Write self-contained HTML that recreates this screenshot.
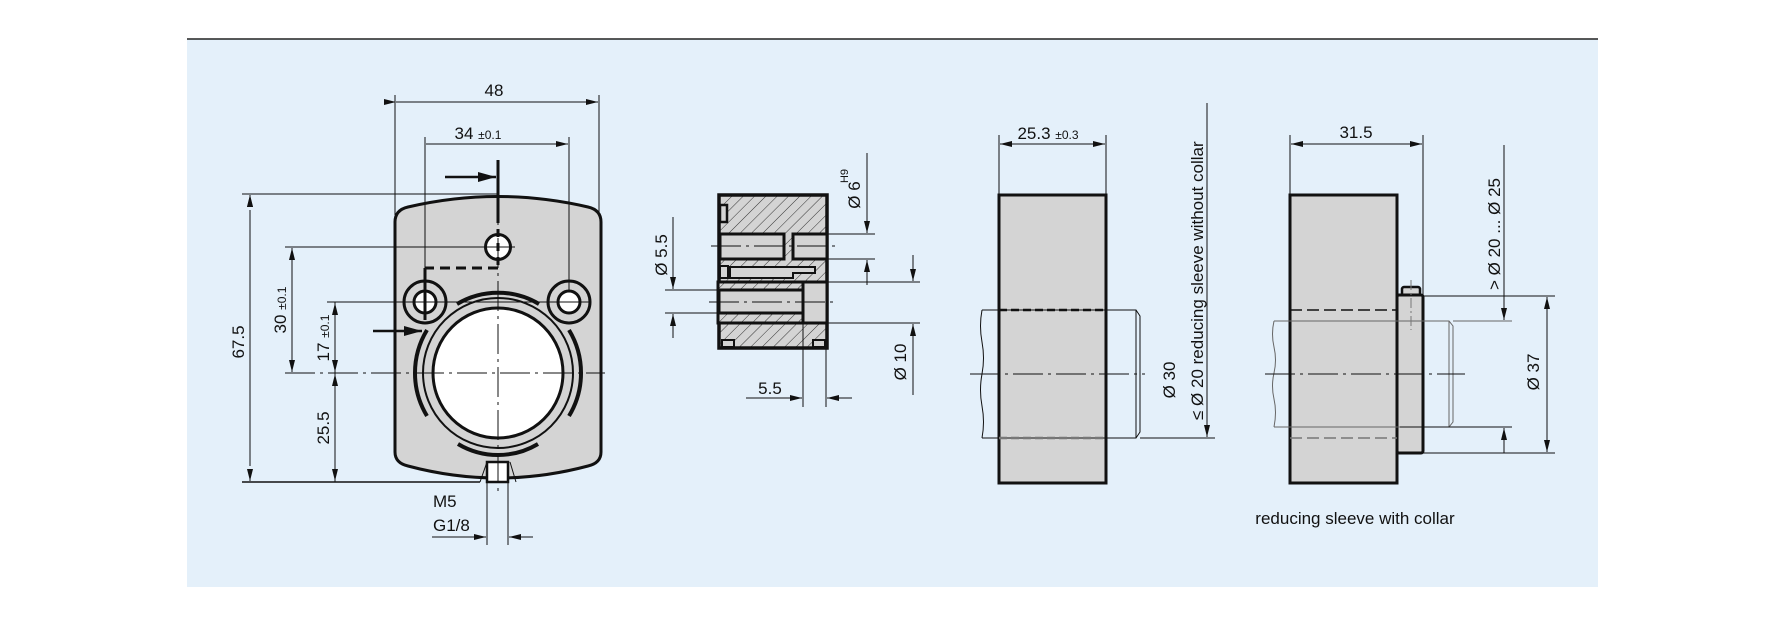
<!DOCTYPE html>
<html><head><meta charset="utf-8"><style>
html,body{margin:0;padding:0;background:#fff;}
svg{display:block;}
text{font-family:"Liberation Sans Narrow","Liberation Sans",sans-serif;fill:#111;}
</style></head><body>
<svg width="1786" height="625" viewBox="0 0 1786 625" xmlns="http://www.w3.org/2000/svg">
<defs>
<pattern id="h" width="8" height="8" patternUnits="userSpaceOnUse" patternTransform="rotate(45)">
<rect width="8" height="8" fill="#d4d4d4"/><line x1="0" y1="0" x2="0" y2="8" stroke="#333" stroke-width="1"/>
</pattern>
<marker id="a" viewBox="0 0 12 6" refX="12" refY="3" markerWidth="12" markerHeight="6" orient="auto" markerUnits="userSpaceOnUse"><path d="M0,0L12,3L0,6z" fill="#111"/></marker>
<marker id="ab" viewBox="0 0 18 10" refX="18" refY="5" markerWidth="18" markerHeight="10" orient="auto" markerUnits="userSpaceOnUse"><path d="M0,0L18,5L0,10z" fill="#111"/></marker>
</defs>
<rect x="187" y="39" width="1411" height="548" fill="#e4f0fa"/>
<line x1="187" y1="39" x2="1598" y2="39" stroke="#222" stroke-width="1.5"/>

<g stroke="#111" fill="none" stroke-width="1">
<!-- VIEW 1 -->
<path d="M395,222 Q395,210 408,207 Q498,186 588,207 Q601,210 601,222 L601,452 Q601,463 588,466 Q498,490 408,466 Q395,463 395,452 Z" fill="#d4d4d4" stroke-width="3"/>
<circle cx="498" cy="373" r="75" fill="#d4d4d4" stroke-width="2"/>
<circle cx="498" cy="373" r="65" fill="#fff" stroke-width="3"/>
<path d="M427,330 A83,83 0 0 0 427,416" stroke-width="4"/>
<path d="M569,330 A83,83 0 0 1 569,416" stroke-width="4"/>
<path d="M457,304 A80,80 0 0 1 539,304" stroke-width="4"/>
<path d="M458,444 A78,78 0 0 0 538,444" stroke-width="4"/>
<circle cx="498" cy="247" r="12.5" fill="#fff" stroke-width="3"/>
<circle cx="425" cy="302" r="21" stroke-width="3"/>
<circle cx="425" cy="302" r="11" fill="#fff" stroke-width="3"/>
<circle cx="569" cy="302" r="21" stroke-width="3"/>
<circle cx="569" cy="302" r="11" fill="#fff" stroke-width="3"/>
<path d="M480,482 L487,462 M510,462 L516,482" stroke-width="1"/>
<rect x="487" y="462" width="21" height="20" fill="#fff" stroke-width="2.5"/>
<!-- centerlines -->
<line x1="285" y1="373" x2="605" y2="373" stroke-dasharray="30,5,3,5"/>
<line x1="498" y1="195" x2="498" y2="495" stroke-dasharray="30,5,3,5"/>
<!-- section markers -->
<line x1="498" y1="160" x2="498" y2="215" stroke-width="3"/>
<line x1="498" y1="215" x2="498" y2="268" stroke-width="3" stroke-dasharray="8,6"/>
<path d="M498,268 L425,268" stroke-width="3" stroke-dasharray="10,6"/>
<line x1="425" y1="268" x2="425" y2="320" stroke-width="3"/>
<line x1="445" y1="177" x2="496" y2="177" stroke-width="2.5" marker-end="url(#ab)"/>
<line x1="373" y1="331" x2="422" y2="331" stroke-width="2.5" marker-end="url(#ab)"/>
<!-- dims -->
<line x1="395" y1="95" x2="395" y2="215"/><line x1="599" y1="95" x2="599" y2="215"/>
<line x1="396" y1="102" x2="598" y2="102" marker-start="url(#a)" marker-end="url(#a)" style="marker-start:url(#a)"/>
<line x1="425" y1="137" x2="425" y2="290"/><line x1="569" y1="137" x2="569" y2="290"/>
<line x1="426" y1="144" x2="568" y2="144" marker-end="url(#a)"/>
<line x1="242" y1="194" x2="498" y2="194"/><line x1="242" y1="482" x2="480" y2="482" stroke-width="1.5"/>
<line x1="250" y1="200" x2="250" y2="195" marker-end="url(#a)"/>
<line x1="250" y1="210" x2="250" y2="466" />
<line x1="250" y1="470" x2="250" y2="481" marker-end="url(#a)"/>
<line x1="250" y1="206" x2="250" y2="195" marker-end="url(#a)"/>
<line x1="285" y1="247" x2="515" y2="247"/>
<line x1="292" y1="260" x2="292" y2="248" marker-end="url(#a)"/>
<line x1="292" y1="258" x2="292" y2="360"/>
<line x1="292" y1="360" x2="292" y2="372" marker-end="url(#a)"/>
<line x1="327" y1="302" x2="590" y2="302"/>
<line x1="335" y1="302" x2="335" y2="482"/>
<line x1="335" y1="315" x2="335" y2="303" marker-end="url(#a)"/>
<line x1="335" y1="360" x2="335" y2="372" marker-end="url(#a)"/>
<line x1="335" y1="386" x2="335" y2="374" marker-end="url(#a)"/>
<line x1="335" y1="470" x2="335" y2="481" marker-end="url(#a)"/>
<line x1="487" y1="482" x2="487" y2="545"/><line x1="508" y1="482" x2="508" y2="545"/>
<line x1="432" y1="537" x2="486" y2="537" marker-end="url(#a)"/>
<line x1="533" y1="537" x2="509" y2="537" marker-end="url(#a)"/>

<!-- VIEW 2 section -->
<rect x="719" y="195" width="108" height="153" fill="url(#h)" stroke-width="3.5"/>
<rect x="720" y="205" width="7" height="17" fill="#d4d4d4" stroke-width="2.5"/>
<rect x="720" y="234" width="64" height="25" fill="#d4d4d4" stroke-width="3"/>
<rect x="793" y="234" width="34" height="25" fill="#d4d4d4" stroke-width="3"/>
<rect x="720" y="266" width="8" height="12" fill="#d4d4d4" stroke-width="2"/>
<path d="M730,267 L815,267 L815,273 L793,273 L793,278 L730,278 Z" fill="#d4d4d4" stroke-width="2"/>
<rect x="718" y="282" width="109" height="41" fill="url(#h)" stroke-width="3"/>
<rect x="803" y="282" width="24" height="41" fill="#d4d4d4" stroke-width="3"/>
<rect x="719" y="290" width="84" height="23" fill="#d4d4d4" stroke-width="3"/>
<rect x="722" y="340" width="12" height="7" fill="#d4d4d4" stroke-width="2"/>
<rect x="813" y="340" width="12" height="7" fill="#d4d4d4" stroke-width="2"/>
<line x1="711" y1="246" x2="835" y2="246" stroke-dasharray="30,5,3,5"/>
<line x1="709" y1="302" x2="835" y2="302" stroke-dasharray="30,5,3,5"/>
<line x1="827" y1="234" x2="875" y2="234"/><line x1="827" y1="259" x2="875" y2="259"/>
<line x1="867" y1="153" x2="867" y2="233" marker-end="url(#a)"/>
<line x1="867" y1="285" x2="867" y2="260" marker-end="url(#a)"/>
<line x1="827" y1="282" x2="920" y2="282"/><line x1="827" y1="323" x2="920" y2="323"/>
<line x1="913" y1="255" x2="913" y2="281" marker-end="url(#a)"/>
<line x1="913" y1="395" x2="913" y2="324" marker-end="url(#a)"/>
<line x1="665" y1="290" x2="720" y2="290"/><line x1="665" y1="313" x2="720" y2="313"/>
<line x1="673" y1="217" x2="673" y2="289" marker-end="url(#a)"/>
<line x1="673" y1="338" x2="673" y2="314" marker-end="url(#a)"/>
<line x1="803" y1="323" x2="803" y2="407"/><line x1="826" y1="348" x2="826" y2="407"/>
<line x1="746" y1="398" x2="802" y2="398" marker-end="url(#a)"/>
<line x1="852" y1="398" x2="827" y2="398" marker-end="url(#a)"/>

<!-- VIEW 3 -->
<rect x="999" y="195" width="107" height="288" fill="#d4d4d4" stroke-width="3"/>
<path d="M982,310 L1136,310 L1140,316 L1140,432 L1136,438 L982,438" stroke-width="1"/>
<path d="M982,310 q-3,16 0,32 q3,16 0,32 q-3,16 0,32 q3,16 0,32" stroke-width="1"/>
<line x1="999" y1="310" x2="1106" y2="310" stroke-width="2.5" stroke-dasharray="8,4"/>
<line x1="999" y1="438" x2="1106" y2="438" stroke="#777" stroke-width="2.5" stroke-dasharray="8,4"/>
<line x1="1136" y1="310" x2="1136" y2="438"/>
<line x1="970" y1="374" x2="1145" y2="374" stroke-dasharray="30,5,3,5"/>
<line x1="999" y1="135" x2="999" y2="195"/><line x1="1106" y1="135" x2="1106" y2="195"/>
<line x1="1050" y1="144" x2="1000" y2="144" marker-end="url(#a)"/>
<line x1="1050" y1="144" x2="1105" y2="144" marker-end="url(#a)"/>
<line x1="1140" y1="438" x2="1215" y2="438"/>
<line x1="1207" y1="103" x2="1207" y2="437" marker-end="url(#a)"/>

<!-- VIEW 4 -->
<rect x="1290" y="195" width="107" height="288" fill="#d4d4d4" stroke-width="3"/>
<rect x="1402" y="287" width="18" height="9" rx="2" fill="#d4d4d4" stroke-width="2.5"/>
<rect x="1397" y="295" width="26" height="158" rx="2" fill="#d4d4d4" stroke-width="3"/>
<path d="M1274,321 L1449,321 L1453,326 L1453,422 L1449,427 L1274,427" stroke="#666"/>
<path d="M1274,321 q-3,13 0,26 q3,13 0,26 q-3,13 0,26 q3,13 0,28" stroke="#666"/>
<line x1="1290" y1="310" x2="1397" y2="310" stroke-width="1.5" stroke-dasharray="12,5"/>
<line x1="1290" y1="438" x2="1397" y2="438" stroke="#777" stroke-width="1.5" stroke-dasharray="12,5"/>
<line x1="1449" y1="321" x2="1449" y2="427" stroke="#666"/>
<line x1="1265" y1="374" x2="1465" y2="374" stroke-dasharray="30,5,3,5"/>
<line x1="1411" y1="280" x2="1411" y2="330" stroke="#777" stroke-dasharray="10,3,2,3"/>
<line x1="1290" y1="135" x2="1290" y2="195"/><line x1="1423" y1="135" x2="1423" y2="295"/>
<line x1="1356" y1="144" x2="1291" y2="144" marker-end="url(#a)"/>
<line x1="1356" y1="144" x2="1422" y2="144" marker-end="url(#a)"/>
<line x1="1453" y1="321" x2="1512" y2="321" stroke="#666"/>
<line x1="1400" y1="427" x2="1512" y2="427"/>
<line x1="1423" y1="296" x2="1555" y2="296"/>
<line x1="1423" y1="453" x2="1555" y2="453"/>
<line x1="1504" y1="145" x2="1504" y2="320" marker-end="url(#a)"/>
<line x1="1504" y1="453" x2="1504" y2="428" marker-end="url(#a)"/>
<line x1="1547" y1="374" x2="1547" y2="297" marker-end="url(#a)"/>
<line x1="1547" y1="374" x2="1547" y2="452" marker-end="url(#a)"/>
</g>

<!-- texts -->
<g font-size="17">
<text x="494" y="96" text-anchor="middle">48</text>
<text x="478" y="139" text-anchor="middle">34 <tspan font-size="12">±0.1</tspan></text>
<text transform="translate(244,342) rotate(-90)" text-anchor="middle">67.5</text>
<text transform="translate(286,310) rotate(-90)" text-anchor="middle">30 <tspan font-size="12">±0.1</tspan></text>
<text transform="translate(329,338) rotate(-90)" text-anchor="middle">17 <tspan font-size="12">±0.1</tspan></text>
<text transform="translate(329,428) rotate(-90)" text-anchor="middle">25.5</text>
<text x="433" y="507">M5</text>
<text x="433" y="531">G1/8</text>
<text transform="translate(667,255) rotate(-90)" text-anchor="middle">Ø 5.5</text>
<text transform="translate(860,195) rotate(-90)" text-anchor="middle">Ø 6</text>
<text transform="translate(848,176) rotate(-90)" text-anchor="middle" font-size="11">H9</text>
<text transform="translate(906,362) rotate(-90)" text-anchor="middle">Ø 10</text>
<text x="770" y="394" text-anchor="middle">5.5</text>
<text x="1048" y="139" text-anchor="middle">25.3 <tspan font-size="12">±0.3</tspan></text>
<text transform="translate(1175,380) rotate(-90)" text-anchor="middle">Ø 30</text>
<text transform="translate(1203,420) rotate(-90)">≤ Ø 20 reducing sleeve without collar</text>
<text x="1356" y="138" text-anchor="middle">31.5</text>
<text transform="translate(1500,290) rotate(-90)">&gt; Ø 20 ...  Ø 25</text>
<text transform="translate(1539,372) rotate(-90)" text-anchor="middle">Ø 37</text>
<text x="1355" y="524" text-anchor="middle">reducing sleeve with collar</text>
</g>
</svg>
</body></html>
